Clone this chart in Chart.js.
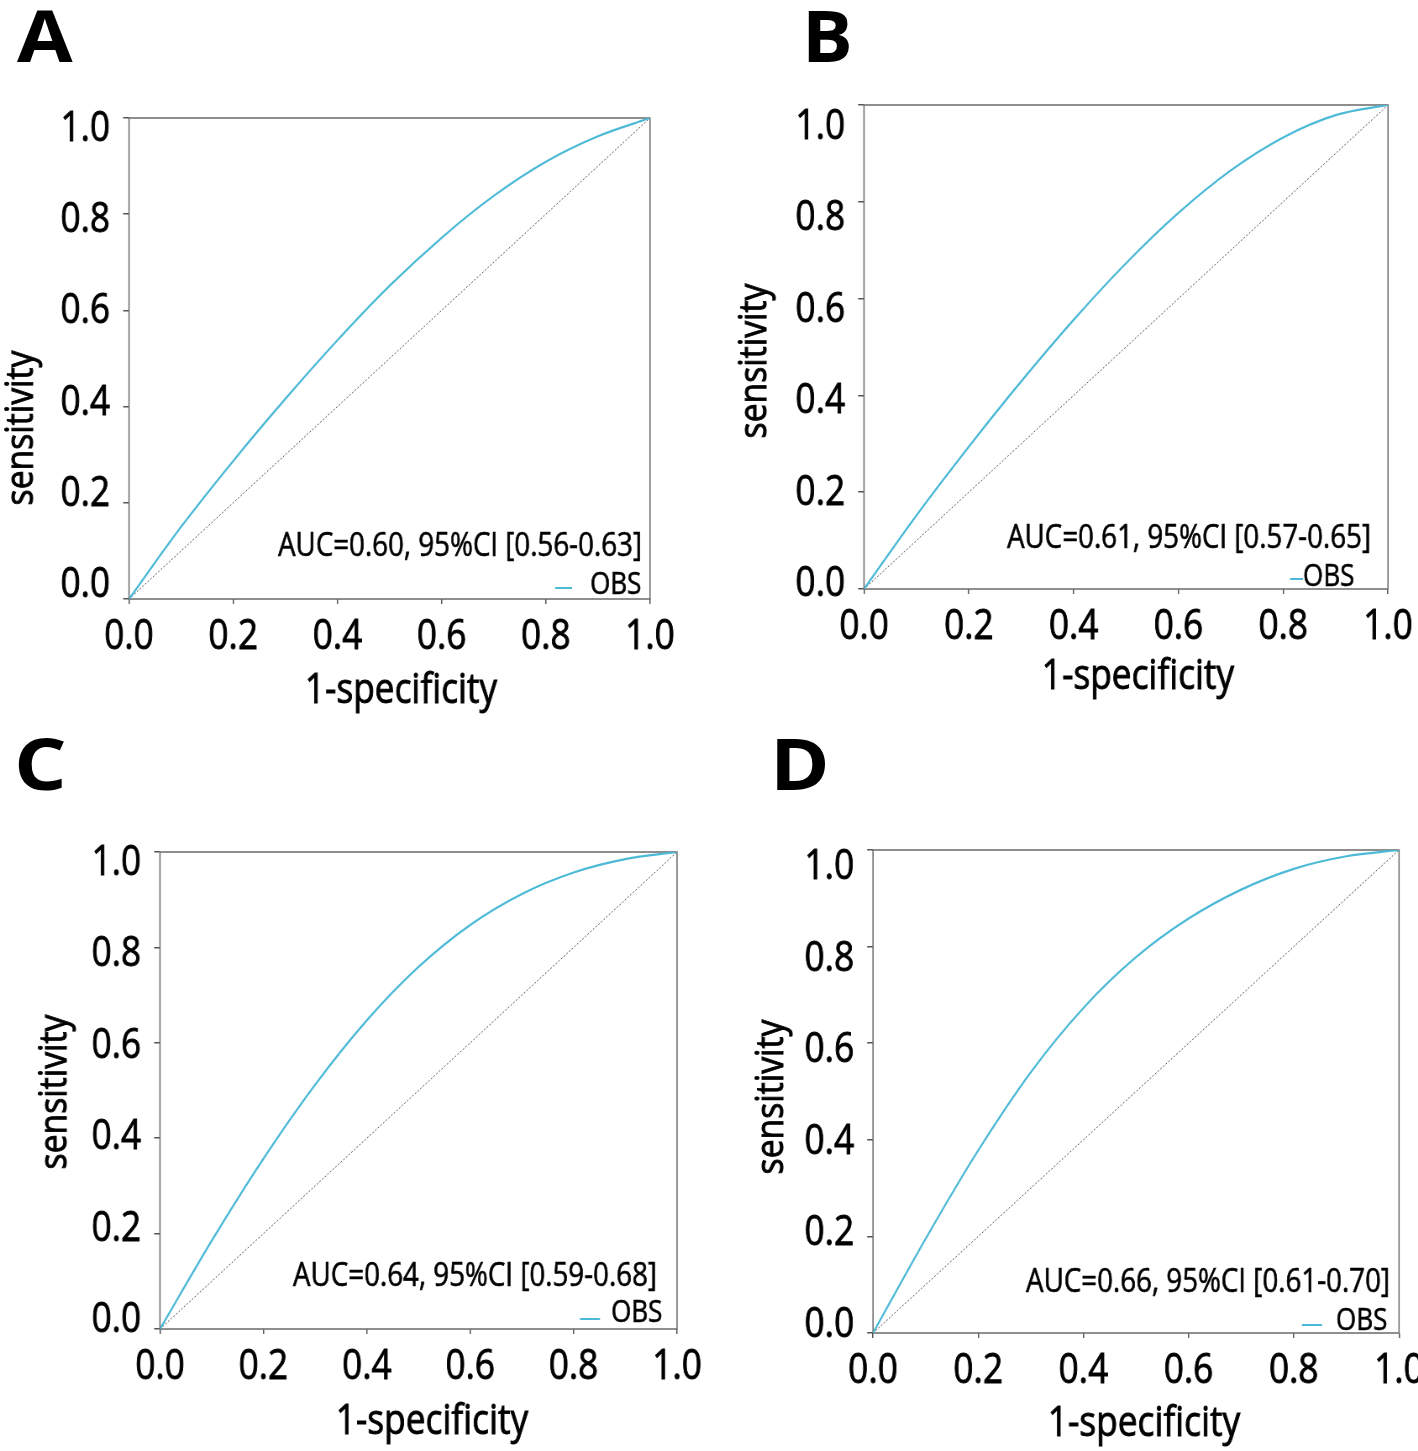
<!DOCTYPE html>
<html>
<head>
<meta charset="utf-8">
<script src="https://cdn.jsdelivr.net/npm/chart.js@4"></script>
<style>
html,body{margin:0;padding:0;background:#fff;overflow:hidden;width:1418px;height:1451px;position:relative;}
canvas{position:absolute;}
.chart{transform-origin:0 0;}
</style>
</head>
<body>
<canvas id="cA" class="chart"></canvas>
<canvas id="cB" class="chart"></canvas>
<canvas id="cC" class="chart"></canvas>
<canvas id="cD" class="chart"></canvas>
<canvas id="letters" width="1418" height="1451" style="left:0;top:0;pointer-events:none"></canvas>
<script>
// ---- data ----
const fpr  = [0, 0.1, 0.2, 0.3, 0.4, 0.5, 0.6, 0.7, 0.8, 0.9, 1];
const tprA = [0, 0.15, 0.287, 0.416, 0.538, 0.651, 0.751, 0.838, 0.909, 0.962, 1];
const tprB = [0, 0.152, 0.294, 0.429, 0.556, 0.673, 0.777, 0.865, 0.933, 0.979, 1];
const tprC = [0, 0.185, 0.357, 0.512, 0.647, 0.759, 0.847, 0.912, 0.957, 0.985, 1];
const tprD = [0, 0.195, 0.378, 0.54, 0.673, 0.778, 0.858, 0.918, 0.961, 0.987, 1];
const diagX = [0, 1];
const diagY = [0, 1];
const tickValues = [0, 0.2, 0.4, 0.6, 0.8, 1.0];
const tickLabels = ['0.0', '0.2', '0.4', '0.6', '0.8', '1.0'];
const panelLetters = ['A', 'B', 'C', 'D'];
const aucLabels = [
  'AUC=0.60, 95%CI [0.56-0.63]',
  'AUC=0.61, 95%CI [0.57-0.65]',
  'AUC=0.64, 95%CI [0.59-0.68]',
  'AUC=0.66, 95%CI [0.61-0.70]'
];
const seriesName = 'OBS';
const xTitle = '1-specificity';
const yTitle = 'sensitivity';

// ---- layout (page coordinates) ----
const S = 0.84;             // horizontal text compression (condensed look)
const FONT = "'Open Sans', 'Noto Sans', sans-serif";
const STROKE = 0.9;         // slight text emboldening
const CURVE = '#4cb9d6';
const panels = [
  {canvas:'cA', tpr:tprA, cx:0, cy:0, w:720, h:730, L:129, T:118, R:650, B:599, lab1:129, lab0:585,
   letterX:17, yTX:33, yTY:428, xTX:401, xTB:703,
   aucR:642, aucB:556, leg:[555,572,588], legT:[590,594]},
  {canvas:'cB', tpr:tprB, cx:720, cy:0, w:720, h:730, L:864, T:105, R:1388, B:589, lab1:127, lab0:584,
   letterX:802, yTX:766, yTY:361, xTX:1138, xTB:689,
   aucR:1371, aucB:548, leg:[1290,1303,579], legT:[1303,586]},
  {canvas:'cC', tpr:tprC, cx:0, cy:730, w:720, h:721, L:160, T:852, R:677, B:1329, lab1:863, lab0:1320,
   letterX:14, yTX:66, yTY:1092, xTX:432, xTB:1434,
   aucR:657, aucB:1286, leg:[580,600,1319], legT:[611,1322]},
  {canvas:'cD', tpr:tprD, cx:720, cy:730, w:720, h:721, L:873, T:850, R:1399, B:1333, lab1:867, lab0:1325,
   letterX:770, yTX:783, yTY:1097, xTX:1144, xTB:1436,
   aucR:1390, aucB:1292, leg:[1302,1322,1325], legT:[1336,1330]}
];
const letterBase = [62, 62, 790, 790];
const letterStretch = [1.12, 1.05, 1.15, 1.12];

// panel letters (uncompressed)
(function () {
  const c = document.getElementById('letters').getContext('2d');
  c.fillStyle = '#000';
  c.font = "700 72px " + FONT;
  c.textBaseline = 'alphabetic';
  panels.forEach((p, i) => {
    c.save();
    c.translate(p.letterX, letterBase[i]);
    c.scale(letterStretch[i], 1);
    c.fillText(panelLetters[i], 0, 0);
    c.restore();
  });
})();

function boldText(ctx, txt, x, y) {
  ctx.fillText(txt, x, y);
  ctx.strokeText(txt, x, y);
}

const decor = {
  id: 'decor',
  beforeDatasetsDraw(chart) {
    const {ctx, chartArea: a} = chart;
    ctx.save();
    ctx.strokeStyle = '#6a6a6a';
    ctx.lineWidth = 1.5;
    ctx.strokeRect(a.left, a.top, a.right - a.left, a.bottom - a.top);
    ctx.restore();
  },
  afterDraw(chart, args, o) {
    const ctx = chart.ctx;
    const X = v => (v - o.cx) / S;
    const Y = v => v - o.cy;
    ctx.save();
    ctx.fillStyle = '#000';
    ctx.strokeStyle = '#000';
    ctx.lineWidth = STROKE;
    ctx.textBaseline = 'alphabetic';
    // x title
    ctx.font = "42px " + FONT;
    ctx.textAlign = 'center';
    boldText(ctx, xTitle, X(o.xTX), Y(o.xTB));
    // y title (rotated, compressed along its length)
    ctx.save();
    ctx.translate(X(o.yTX), Y(o.yTY));
    ctx.scale(1 / S, 1);
    ctx.rotate(-Math.PI / 2);
    ctx.scale(0.886, 1);
    ctx.font = "38px " + FONT;
    ctx.textAlign = 'center';
    boldText(ctx, yTitle, 0, 0);
    ctx.restore();
    // AUC text
    ctx.font = "33px " + FONT;
    ctx.textAlign = 'right';
    ctx.lineWidth = 0.6;
    boldText(ctx, o.auc, X(o.aucR), Y(o.aucB));
    // legend
    const ds = chart.data.datasets[0];
    ctx.strokeStyle = ds.borderColor;
    ctx.lineWidth = 2;
    ctx.beginPath();
    ctx.moveTo(X(o.leg[0]), Y(o.leg[2]));
    ctx.lineTo(X(o.leg[1]), Y(o.leg[2]));
    ctx.stroke();
    ctx.strokeStyle = '#000';
    ctx.lineWidth = 0.6;
    ctx.font = "31px " + FONT;
    ctx.textAlign = 'left';
    boldText(ctx, ds.label, X(o.legT[0]), Y(o.legT[1]));
    ctx.restore();
  }
};

const setTicks = s => { s.ticks = tickValues.map(v => ({value: v})); };

panels.forEach((p, i) => {
  const el = document.getElementById(p.canvas);
  const Wc = Math.ceil(p.w / S);
  el.width = Wc; el.height = p.h;
  el.style.left = p.cx + 'px'; el.style.top = p.cy + 'px';
  el.style.transform = 'scaleX(' + S + ')';

  const yTickLen = 7;
  const yLabW = (p.L - p.cx) / S - yTickLen;
  const xH = (p.cy + p.h) - p.B;
  const padTop = p.T - p.cy;
  const padRight = Wc - (p.R - p.cx) / S;
  // label axis range so that labels sit where the reference prints them
  const span = p.lab0 - p.lab1;
  const lMin = -(p.B - p.lab0) / span;
  const lMax = lMin + (p.B - p.T) / span;
  const tickFont = {family: FONT, size: 42};

  new Chart(el, {
    type: 'line',
    data: {
      datasets: [
        {label: seriesName, data: fpr.map((x, k) => ({x: x, y: p.tpr[k]})),
         borderColor: CURVE, borderWidth: 2.2, pointRadius: 0, fill: false,
         cubicInterpolationMode: 'monotone'},
        {label: 'ref', data: diagX.map((x, k) => ({x: x, y: diagY[k]})),
         borderColor: '#555', borderWidth: 1, borderDash: [2, 2], pointRadius: 0, fill: false}
      ]
    },
    options: {
      responsive: false, animation: false, devicePixelRatio: 1,
      layout: {padding: {top: padTop, right: padRight, left: 0, bottom: 0}},
      plugins: {
        legend: {display: false}, tooltip: {enabled: false},
        decor: Object.assign({auc: aucLabels[i]}, p, {tpr: undefined})
      },
      scales: {
        x: {type: 'linear', position: 'bottom', min: 0, max: 1,
            border: {display: false},
            grid: {drawOnChartArea: false, drawTicks: true, tickLength: 5, color: '#555', lineWidth: 1.5},
            ticks: {color: '#000', font: tickFont, padding: 8, maxRotation: 0,
                    textStrokeColor: '#000', textStrokeWidth: STROKE,
                    callback: (v, idx) => tickLabels[idx]},
            afterBuildTicks: setTicks,
            afterFit: s => { s.height = xH; }},
        y: {type: 'linear', position: 'left', min: 0, max: 1, weight: 0,
            border: {display: false},
            grid: {drawOnChartArea: false, drawTicks: true, tickLength: yTickLen, color: '#555', lineWidth: 1.5},
            ticks: {display: false},
            afterBuildTicks: setTicks,
            afterFit: s => { s.width = yTickLen; }},
        yLab: {type: 'linear', position: 'left', min: lMin, max: lMax, weight: 1,
            border: {display: false},
            grid: {display: false, drawTicks: false},
            ticks: {color: '#000', font: tickFont, padding: 15.5,
                    textStrokeColor: '#000', textStrokeWidth: STROKE,
                    callback: (v, idx) => tickLabels[idx]},
            afterBuildTicks: setTicks,
            afterFit: s => { s.width = yLabW; }}
      }
    },
    plugins: [decor]
  });
});
</script>
</body>
</html>
